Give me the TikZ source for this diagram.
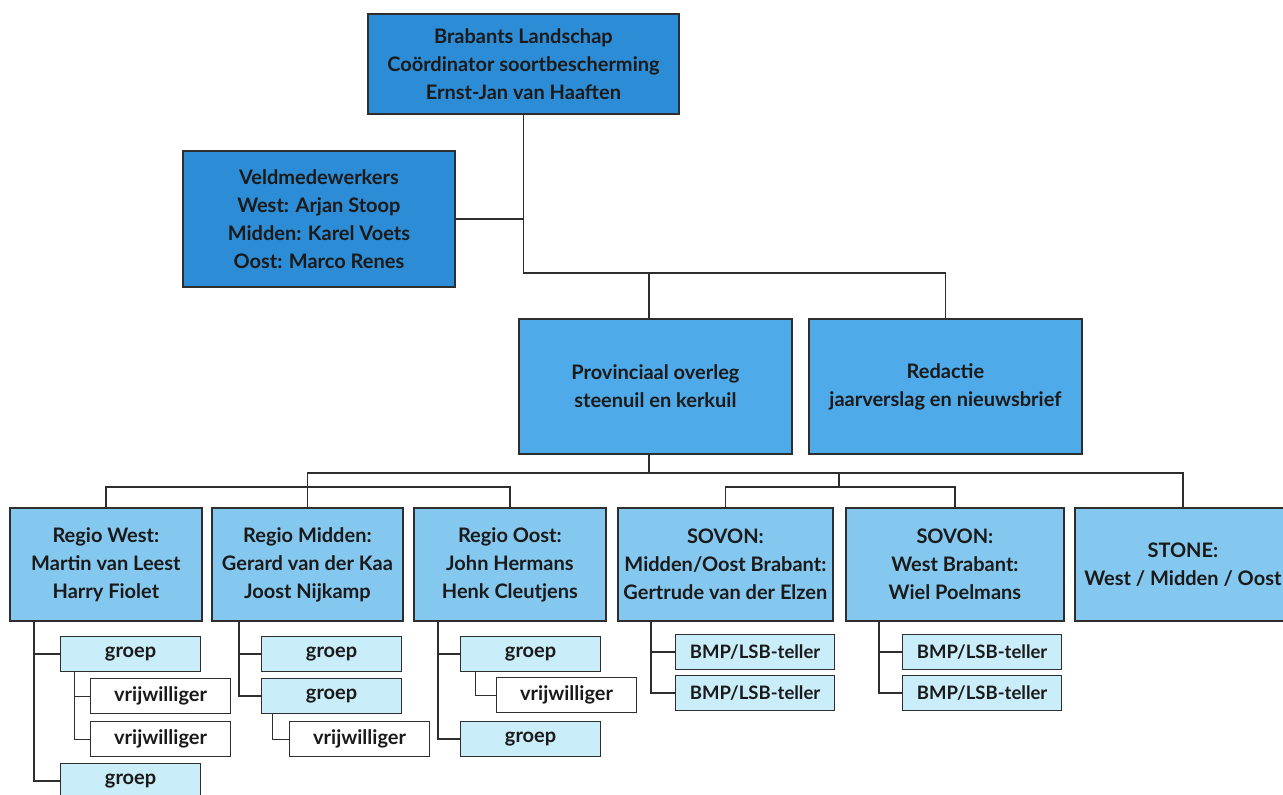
\documentclass[tikz,border=0pt]{standalone}
\usepackage{fontspec}
\setmainfont{Lato}
\definecolor{cdark}{HTML}{2C8DD6}
\definecolor{cmid}{HTML}{4EAAE8}
\definecolor{clight}{HTML}{84C8F0}
\definecolor{cpale}{HTML}{C9EDF9}
\definecolor{frame}{HTML}{2E2E2E}
\definecolor{txt}{HTML}{1A1A1A}
\begin{document}
\begin{tikzpicture}[x=1pt,y=-1pt,
  box/.style={draw=frame, line width=1.8pt, align=center, inner sep=0pt, anchor=north west,
    text=txt, font=\fontsize{20}{28}\selectfont\bfseries},
  dark/.style={box, fill=cdark},
  mid/.style={box, fill=cmid},
  light/.style={box, fill=clight},
  small/.style={draw=frame, line width=1.2pt, align=center, inner sep=0pt, anchor=north west,
    text=txt, font=\fontsize{20}{22}\selectfont\bfseries, minimum height=35pt},
  grp/.style={small, fill=cpale, minimum width=140pt},
  vrij/.style={small, fill=white, minimum width=140pt},
  bmp/.style={small, fill=cpale, minimum width=159pt, font=\fontsize{18.5}{22}\selectfont\bfseries},
  conn/.style={draw=frame, line width=1.8pt},
  thin/.style={draw=frame, line width=1pt}]
\useasboundingbox (0,0) rectangle (1283,795);
\fill[white] (0,0) rectangle (1283,795);

% top levels
\node[dark, minimum width=311pt, minimum height=100pt] (top) at (367,13)
  {Brabants Landschap\\Coördinator soortbescherming\\Ernst-Jan van Haaften};
\node[dark, minimum width=272pt, minimum height=136pt] (veld) at (182,150)
  {Veldmedewerkers\\West: Arjan Stoop\\Midden: Karel Voets\\Oost: Marco Renes};
\node[mid, minimum width=273pt, minimum height=135pt] (prov) at (518,318)
  {Provinciaal overleg\\steenuil en kerkuil};
\node[mid, minimum width=273pt, minimum height=135pt] (red) at (808,318)
  {Redactie\\jaarverslag en nieuwsbrief};

% regions
\node[light, minimum width=192pt, minimum height=113pt] (west) at (9,507)
  {Regio West:\\Martin van Leest\\Harry Fiolet};
\node[light, minimum width=191pt, minimum height=113pt] (midden) at (211,507)
  {Regio Midden:\\Gerard van der Kaa\\Joost Nijkamp};
\node[light, minimum width=192pt, minimum height=113pt] (oost) at (413,507)
  {Regio Oost:\\John Hermans\\Henk Cleutjens};
\node[light, minimum width=215pt, minimum height=113pt] (sov1) at (617,507)
  {SOVON:\\Midden/Oost Brabant:\\Gertrude van der Elzen};
\node[light, minimum width=218pt, minimum height=113pt] (sov2) at (845,507)
  {SOVON:\\West Brabant:\\Wiel Poelmans};
\node[light, minimum width=216pt, minimum height=113pt] (stone) at (1074,507)
  {STONE:\\West / Midden / Oost};

% sub items West
\node[grp] (wg1) at (60,636) {groep};
\node[vrij] (wv1) at (90,678) {vrijwilliger};
\node[vrij] (wv2) at (90,721) {vrijwilliger};
\node[grp] (wg2) at (60,763) {groep};
% Midden
\node[grp] (mg1) at (261,636) {groep};
\node[grp] (mg2) at (261,678) {groep};
\node[vrij] (mv1) at (289,721) {vrijwilliger};
% Oost
\node[grp] (og1) at (460,636) {groep};
\node[vrij] (ov1) at (496,677) {vrijwilliger};
\node[grp] (og2) at (460,721) {groep};
% SOVON
\node[bmp] (s1a) at (675,634) {BMP/LSB-teller};
\node[bmp] (s1b) at (675,675) {BMP/LSB-teller};
\node[bmp] (s2a) at (902,634) {BMP/LSB-teller};
\node[bmp] (s2b) at (902,675) {BMP/LSB-teller};

% helper coordinates
\coordinate (hA) at (0,273);
\coordinate (hB) at (0,473);
\coordinate (hC) at (0,487);
\coordinate (sj) at (839,487);
\coordinate (pj) at (649,0);

% top connectors
\draw[conn] (top.south) -- (top.south |- hA) -| (red.north);
\draw[conn] (veld.east) -- (veld.east -| top.south);
\draw[conn] (pj |- hA) -- (pj |- prov.north);
\draw[conn] (pj |- prov.south) -- (pj |- hB);
\draw[conn] (midden.north |- hB) -| (stone.north);
\draw[conn] (midden.north) -- (midden.north |- hB);
\draw[conn] (west.north) |- (oost.north |- hC) -- (oost.north);
\draw[conn] (sov1.north) |- (sov2.north |- hC) -- (sov2.north);
\draw[conn] (sj) -- (sj |- hB);

% West subtree
\coordinate (wt) at ([xshift=25pt]west.south west);
\draw[conn] (wt) |- (wg2.west);
\draw[conn] (wt |- wg1.west) -- (wg1.west);
\coordinate (wgt) at ([xshift=14pt]wg1.south west);
\draw[thin] (wgt) |- (wv2.west);
\draw[thin] (wgt |- wv1.west) -- (wv1.west);
% Midden subtree
\coordinate (mt) at ([xshift=28pt]midden.south west);
\draw[conn] (mt) |- (mg2.west);
\draw[conn] (mt |- mg1.west) -- (mg1.west);
\coordinate (mgt) at ([xshift=11pt]mg2.south west);
\draw[thin] (mgt) |- (mv1.west);
% Oost subtree
\coordinate (ot) at ([xshift=25pt]oost.south west);
\draw[conn] (ot) |- (og2.west);
\draw[conn] (ot |- og1.west) -- (og1.west);
\coordinate (ogt) at ([xshift=15pt]og1.south west);
\draw[thin] (ogt) |- (ov1.west);
% SOVON subtrees
\coordinate (s1t) at ([xshift=34pt]sov1.south west);
\draw[conn] (s1t) |- (s1b.west);
\draw[conn] (s1t |- s1a.west) -- (s1a.west);
\coordinate (s2t) at ([xshift=34pt]sov2.south west);
\draw[conn] (s2t) |- (s2b.west);
\draw[conn] (s2t |- s2a.west) -- (s2a.west);
\end{tikzpicture}
\end{document}
